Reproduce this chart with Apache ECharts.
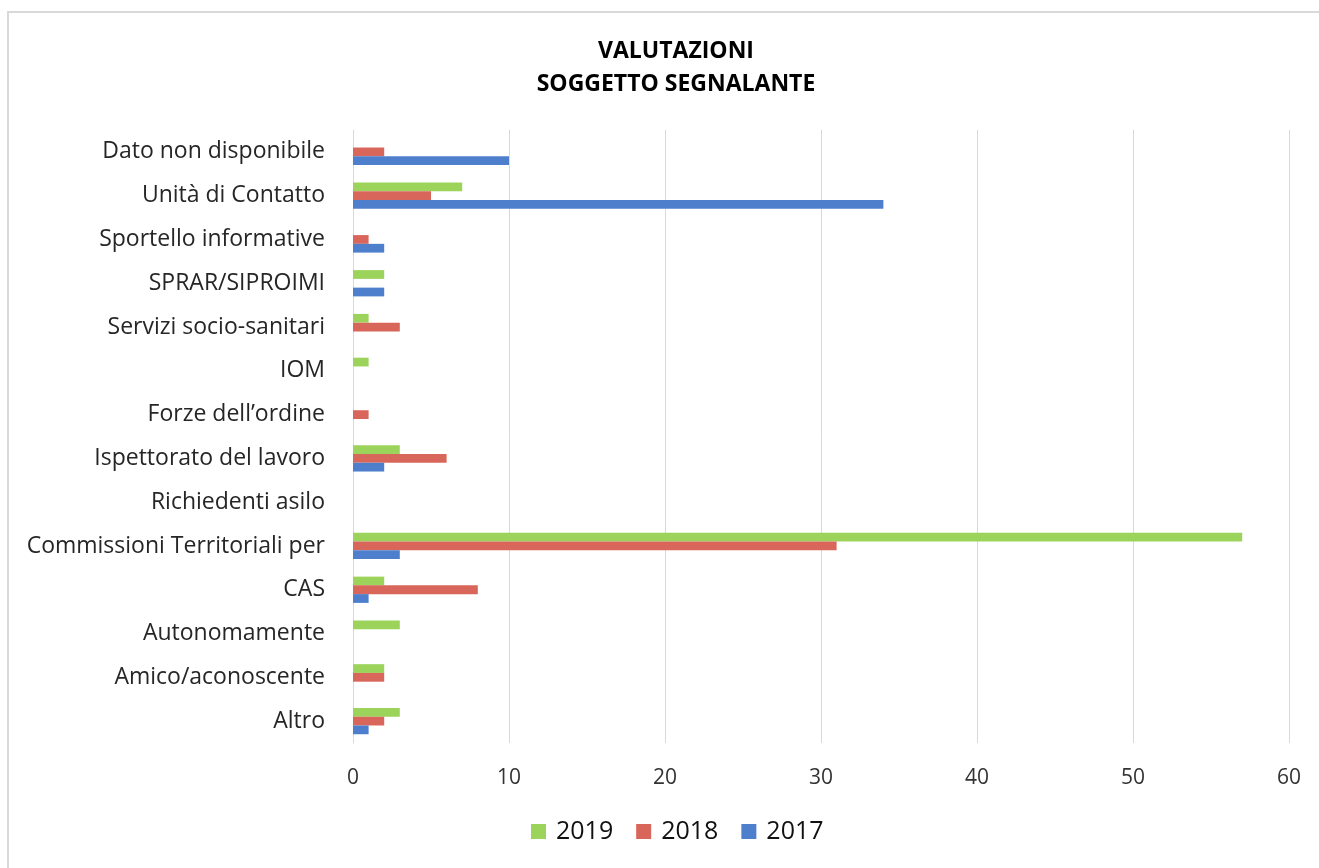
<!DOCTYPE html>
<html>
<head>
<meta charset="utf-8">
<script src="https://cdn.jsdelivr.net/npm/echarts@6/dist/echarts.min.js"></script>
<style>
html,body{margin:0;padding:0;background:#fff;}
#chart{width:1319px;height:868px;}
</style>
</head>
<body>
<div id="chart"></div>
<script>
const categories = ['Dato non disponibile','Unità di Contatto','Sportello informative','SPRAR/SIPROIMI','Servizi socio-sanitari','IOM','Forze dell\u2019ordine','Ispettorato del lavoro','Richiedenti asilo','Commissioni Territoriali per','CAS','Autonomamente','Amico/aconoscente','Altro'];
const values2019 = [null,7,null,2,1,1,null,3,null,57,2,3,2,3];
const values2018 = [2,5,1,null,3,null,1,6,null,31,8,null,2,2];
const values2017 = [10,34,2,2,null,null,null,2,null,3,1,null,null,1];
const xTicks = [0,10,20,30,40,50,60];

const colors = {'2019':'#9BD35B','2018':'#D9665A','2017':'#4E7FCD'};
const font = 'Open Sans';
const chart = echarts.init(document.getElementById('chart'));
chart.setOption({
  animation:false,
  title:{text:'VALUTAZIONI\nSOGGETTO SEGNALANTE',left:671,textAlign:'center',top:30,
    textStyle:{fontFamily:font,fontWeight:'bold',fontSize:23,color:'#000',lineHeight:33}},
  graphic:[{type:'polyline',shape:{points:[[8,870],[8,12],[1322,12]]},style:{stroke:'#d9d9d9',lineWidth:2,fill:null}}],
  legend:{data:['2019','2018','2017'],bottom:19,left:526,itemWidth:15,itemHeight:15,itemGap:23,
    icon:'rect',textStyle:{fontFamily:font,fontSize:25,color:'#111',padding:[0,0,0,5]}},
  grid:{left:353,right:30,top:130,bottom:125},
  xAxis:{type:'value',min:xTicks[0],max:xTicks[xTicks.length-1],interval:10,
    axisLabel:{fontFamily:font,fontSize:21,color:'#333',margin:25},
    splitLine:{lineStyle:{color:'#d9d9d9',width:1}},axisLine:{show:false},axisTick:{show:false}},
  yAxis:{type:'category',data:categories,inverse:true,
    axisLabel:{fontFamily:font,fontSize:23,color:'#262626',margin:28},
    axisLine:{show:true,lineStyle:{color:'#d9d9d9',width:1}},axisTick:{show:false}},
  series:[
    {name:'2019',type:'bar',data:values2019,itemStyle:{color:colors['2019']},barGap:'0%',barCategoryGap:'40%'},
    {name:'2018',type:'bar',data:values2018,itemStyle:{color:colors['2018']}},
    {name:'2017',type:'bar',data:values2017,itemStyle:{color:colors['2017']}}
  ]
});
</script>
</body>
</html>
